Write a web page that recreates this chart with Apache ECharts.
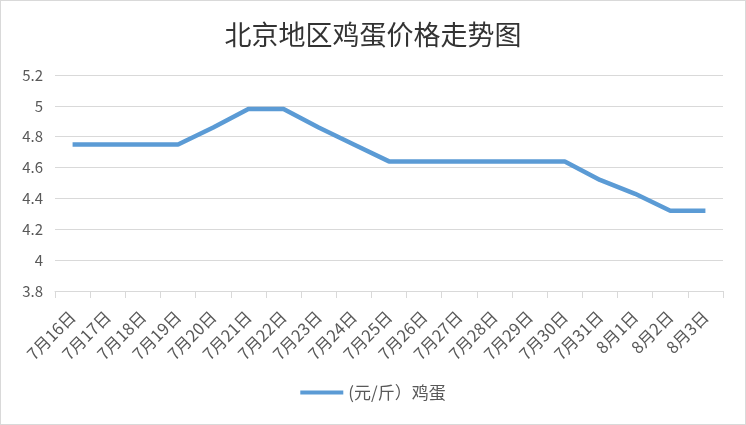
<!DOCTYPE html>
<html><head><meta charset="utf-8">
<script src="https://cdn.jsdelivr.net/npm/echarts@6/dist/echarts.min.js"></script>
<style>html,body{margin:0;padding:0;background:#fff}#c{width:746px;height:425px;box-sizing:border-box;border:1px solid #d9d9d9}</style>
</head><body><div id="c"></div>
<script>
const categories = ['7月16日','7月17日','7月18日','7月19日','7月20日','7月21日','7月22日','7月23日','7月24日','7月25日','7月26日','7月27日','7月28日','7月29日','7月30日','7月31日','8月1日','8月2日','8月3日'];
const eggPrices = [4.75,4.75,4.75,4.75,4.86,4.98,4.98,4.86,4.75,4.64,4.64,4.64,4.64,4.64,4.64,4.52,4.43,4.32,4.32];
const seriesName = '(元/斤）鸡蛋';
const titleText = '北京地区鸡蛋价格走势图';
const font = '"Noto Sans CJK SC", "Microsoft YaHei", sans-serif';
const chart = echarts.init(document.getElementById('c'));
chart.setOption({
  animation:false,
  title:{text:titleText,left:'center',top:15,textStyle:{fontFamily:font,fontSize:27,fontWeight:'normal',color:'#333333'}},
  grid:{left:54,right:22,top:74,bottom:133,containLabel:false},
  legend:{bottom:18,left:'center',itemWidth:43,itemHeight:4,icon:'rect',
    textStyle:{fontFamily:font,fontSize:17,color:'#595959'}},
  xAxis:{type:'category',data:categories,boundaryGap:true,
    axisLine:{lineStyle:{color:'#d9d9d9'}},
    axisTick:{show:true,length:7,lineStyle:{color:'#d9d9d9'},alignWithLabel:false},
    axisLabel:{rotate:45,interval:0,fontFamily:font,fontSize:16.5,color:'#595959',margin:23}},
  yAxis:{type:'value',min:3.8,max:5.2,interval:0.2,
    axisLine:{show:false},axisTick:{show:false},
    splitLine:{lineStyle:{color:'#d9d9d9',width:1}},
    axisLabel:{fontFamily:font,fontSize:15,color:'#595959',margin:12,
      formatter:v=>String(Math.round(v*10)/10)}},
  series:[{name:seriesName,type:'line',data:eggPrices,symbol:'none',
    lineStyle:{color:'#5b9bd5',width:4.5},itemStyle:{color:'#5b9bd5'}}]
});
</script></body></html>
